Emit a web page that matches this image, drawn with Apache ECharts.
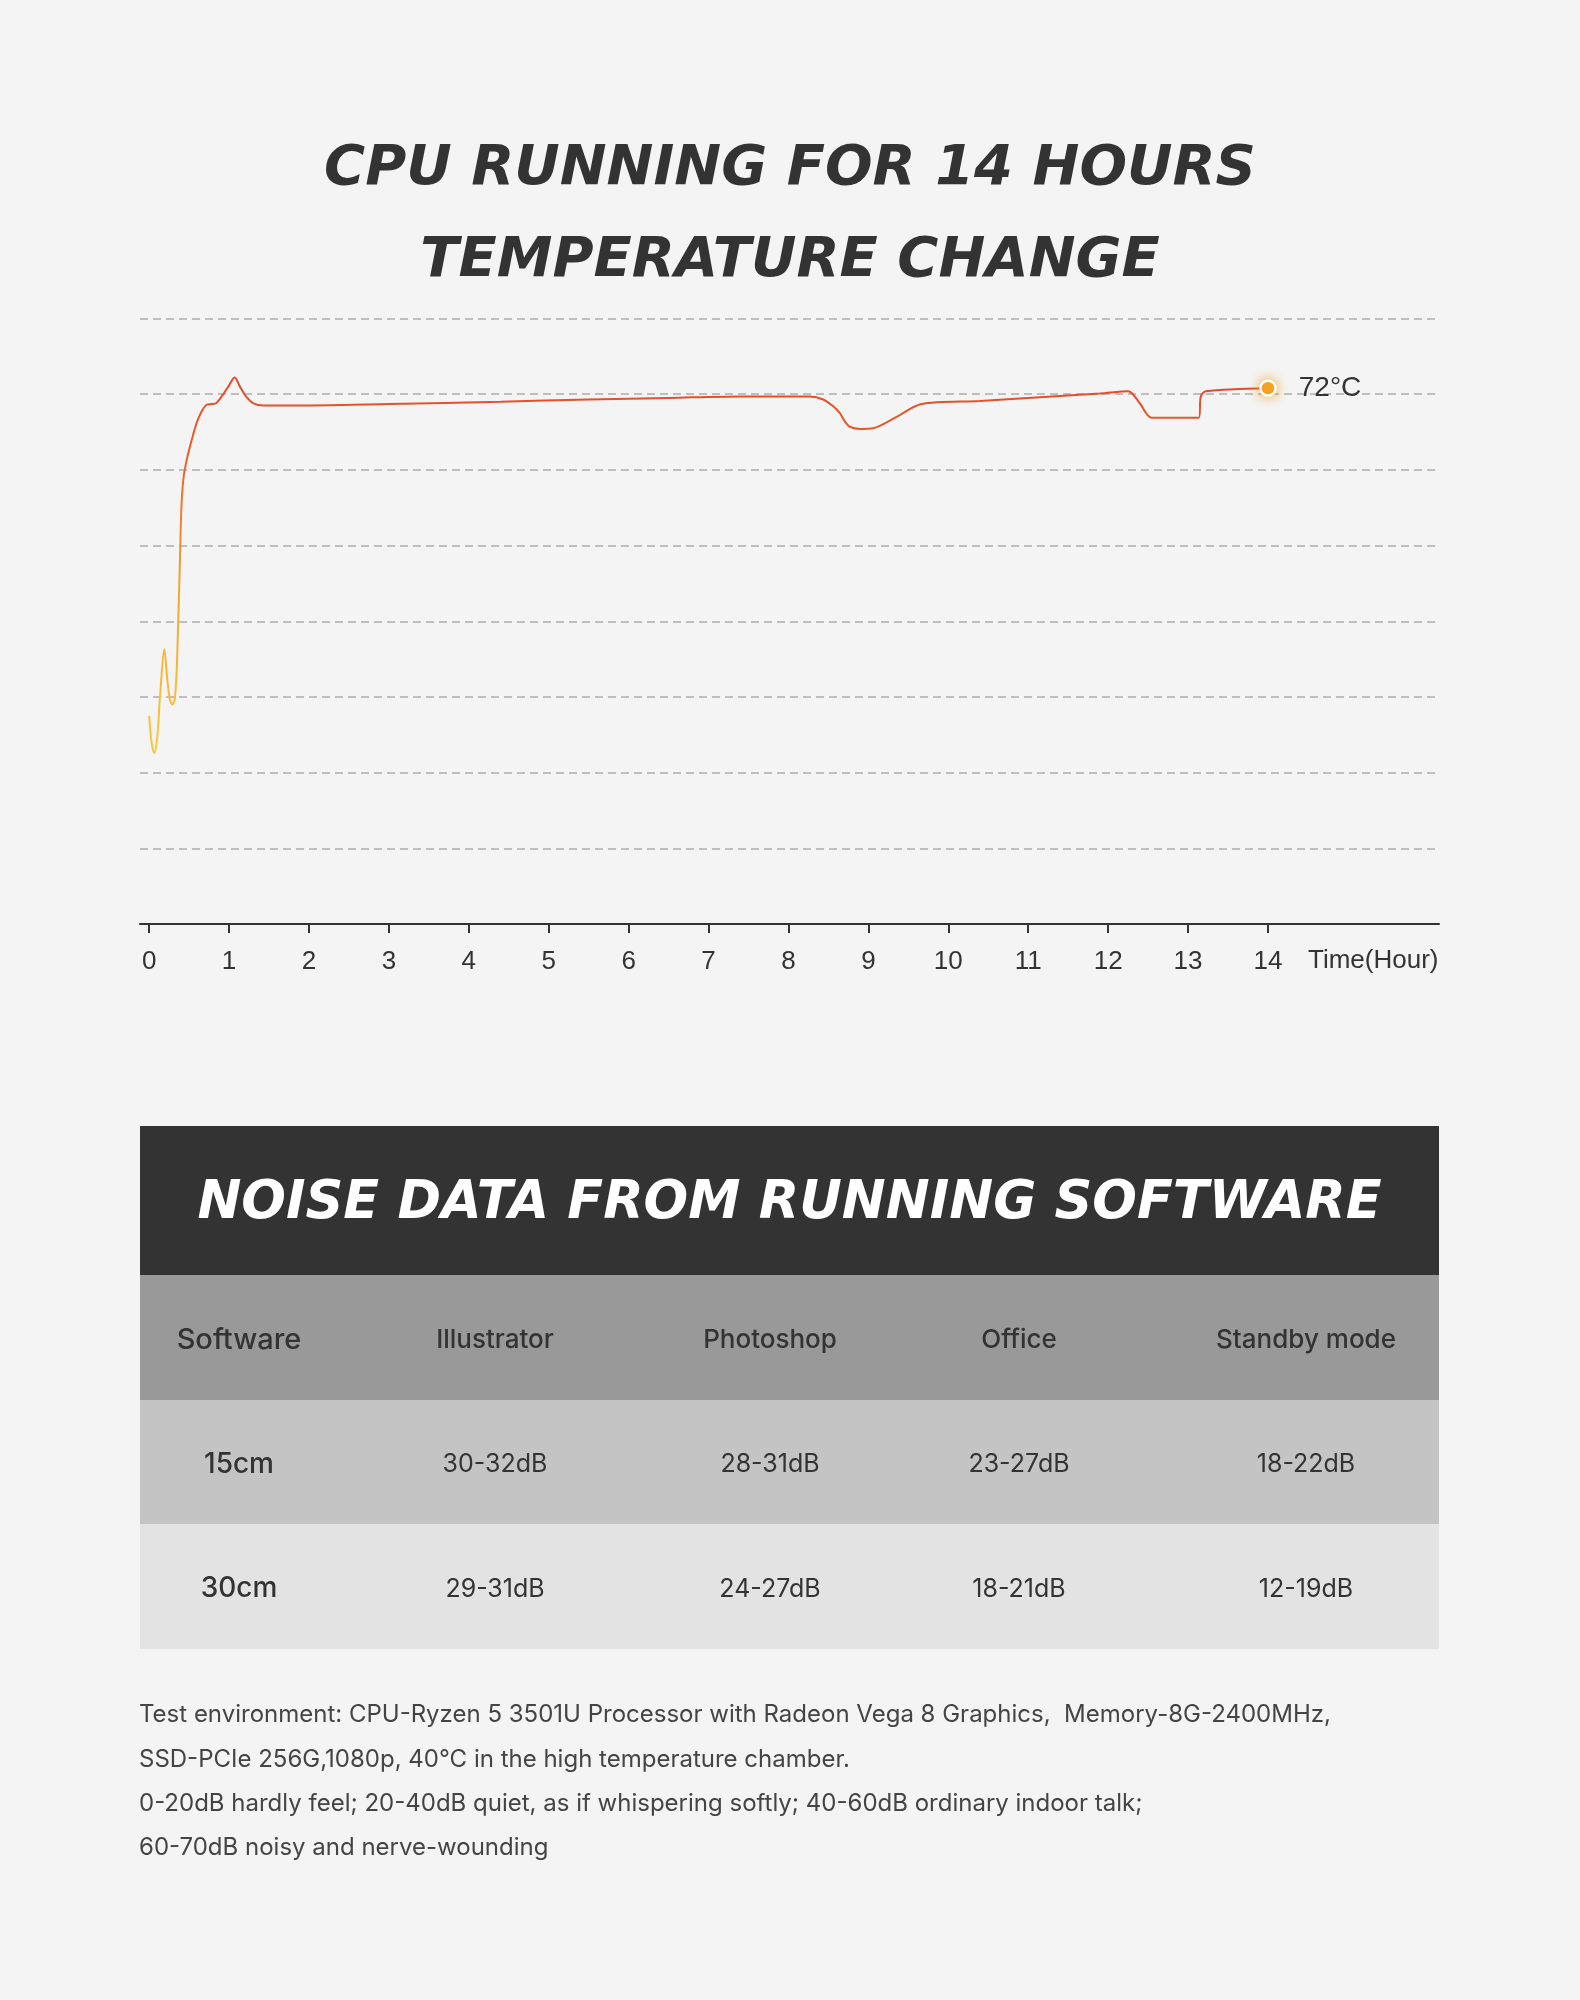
<!DOCTYPE html>
<html>
<head>
<meta charset="utf-8">
<script src="https://cdn.jsdelivr.net/npm/echarts@6/dist/echarts.min.js"></script>
<style>
html,body{margin:0;padding:0;background:#f4f4f4;}
#c{width:1580px;height:2000px;}
</style>
</head>
<body>
<div id="c"></div>
<script>
// ---------- DATA ----------
const chartTitle = 'CPU RUNNING FOR 14 HOURS\nTEMPERATURE CHANGE';
const xAxisName = 'Time(Hour)';
const xTicks = [0,1,2,3,4,5,6,7,8,9,10,11,12,13,14];
const endLabelText = '72°C';

const hours = [0, 0.031, 0.064, 0.102, 0.135, 0.189, 0.227, 0.260, 0.289, 0.319, 0.344, 0.364, 0.385, 0.402, 0.427, 0.469, 0.531, 0.594, 0.656, 0.719, 0.782, 0.836, 0.907, 0.990, 1.069, 1.136, 1.219, 1.303, 1.428, 1.762, 3.0, 4.4, 5.5, 6.5, 7.4, 7.892, 8.268, 8.434, 8.559, 8.643, 8.705, 8.768, 8.893, 9.059, 9.352, 9.665, 10.394, 11.897, 12.25, 12.396, 12.542, 13.134, 13.159, 13.222, 14.0];
const temps = [27.5, 23.9, 22.6, 24.8, 30.0, 36.3, 32.2, 29.6, 29.0, 29.6, 33.6, 40.2, 48.1, 54.7, 58.7, 61.3, 63.9, 66.2, 67.7, 68.6, 68.7, 68.8, 69.7, 71.0, 72.2, 71.0, 69.6, 68.8, 68.5, 68.5, 68.7, 69.0, 69.3, 69.5, 69.7, 69.7, 69.7, 69.3, 68.4, 67.5, 66.4, 65.7, 65.4, 65.5, 67.0, 68.7, 69.1, 70.1, 70.4, 68.8, 66.9, 66.9, 69.7, 70.4, 70.8];

const tableTitle = 'NOISE DATA FROM RUNNING SOFTWARE';
const tableHeader = ['Software', 'Illustrator', 'Photoshop', 'Office', 'Standby mode'];
const row15cm = ['15cm', '30-32dB', '28-31dB', '23-27dB', '18-22dB'];
const row30cm = ['30cm', '29-31dB', '24-27dB', '18-21dB', '12-19dB'];
const notes = [
  'Test environment: CPU-Ryzen 5 3501U Processor with Radeon Vega 8 Graphics,  Memory-8G-2400MHz,',
  'SSD-PCIe 256G,1080p, 40°C in the high temperature chamber.',
  '0-20dB hardly feel; 20-40dB quiet, as if whispering softly; 40-60dB ordinary indoor talk;',
  '60-70dB noisy and nerve-wounding'
];

// ---------- LAYOUT ----------
const L = {
  left: 140, right: 1439,
  colCenters: [239, 495, 770, 1019, 1306],
  bandTop: 1126, bandH: 149,
  headTop: 1275, headH: 125,
  row1Top: 1400, row1H: 124,
  row2Top: 1524, row2H: 125,
  textShift: 2.5,
  noteX: 139, noteY0: 1715, noteStep: 44.4
};
const W = L.right - L.left;

const graphics = [];
graphics.push({type:'rect', shape:{x:L.left, y:L.bandTop, width:W, height:L.bandH}, style:{fill:'#333333'}, silent:true});
graphics.push({type:'text', style:{text:tableTitle, x:(L.left+L.right)/2, y:L.bandTop+L.bandH/2+4, fill:'#ffffff', align:'center', verticalAlign:'middle', textAlign:'center', textVerticalAlign:'middle', font:'italic bold 52.5px "DejaVu Sans"'}, silent:true});
const rows = [
  {cells: tableHeader, top:L.headTop, h:L.headH, fill:'#999999', first:'500 29px "Inter"', rest:'500 26px "Inter"'},
  {cells: row15cm, top:L.row1Top, h:L.row1H, fill:'#c4c4c4', first:'500 28px "Inter"', rest:'400 25px "Inter"'},
  {cells: row30cm, top:L.row2Top, h:L.row2H, fill:'#e3e3e3', first:'500 28px "Inter"', rest:'400 25px "Inter"'}
];
rows.forEach(r => {
  graphics.push({type:'rect', shape:{x:L.left, y:r.top, width:W, height:r.h}, style:{fill:r.fill}, silent:true});
  r.cells.forEach((t, i) => {
    graphics.push({type:'text', style:{text:t, x:L.colCenters[i], y:r.top + r.h/2 + L.textShift, fill:'#333333', align:'center', verticalAlign:'middle', textAlign:'center', textVerticalAlign:'middle', font: i === 0 ? r.first : r.rest}, silent:true});
  });
});
notes.forEach((t, i) => {
  graphics.push({type:'text', style:{text:t, x:L.noteX, y:L.noteY0 + i*L.noteStep, fill:'#444444', align:'left', verticalAlign:'middle', textAlign:'left', textVerticalAlign:'middle', font:'400 24px "Inter"'}, silent:true});
});

const seriesData = hours.map((h, i) => {
  if (i === hours.length - 1) {
    return {
      value: [h, temps[i]],
      symbol: 'circle', symbolSize: 15,
      itemStyle: {color:'#f6a123', borderColor:'#ffffff', borderWidth:2.5, shadowBlur:12, shadowColor:'rgba(246,161,35,0.85)'},
      label: {show:true, position:'right', distance:22, formatter:endLabelText, fontSize:28, color:'#333333', fontFamily:'Liberation Sans'}
    };
  }
  return [h, temps[i]];
});

const chart = echarts.init(document.getElementById('c'), null, {renderer:'canvas'});
chart.setOption({
  animation: false,
  backgroundColor: '#f4f4f4',
  title: {
    text: chartTitle, left: 'center', top: 118,
    textStyle: {fontFamily:'DejaVu Sans', fontWeight:'bold', fontStyle:'italic', fontSize:56, lineHeight:92, color:'#333333'}
  },
  grid: {left: L.left, right: 1580 - L.right, top: 318.5, bottom: 2000 - 924},
  xAxis: {
    type: 'value', min: -0.115, max: 16.14,
    name: xAxisName, nameLocation: 'end', nameGap: -131,
    nameTextStyle: {fontSize:26, color:'#333333', fontFamily:'Liberation Sans', align:'left', verticalAlign:'top', padding:[24,0,0,0]},
    axisLine: {show:true, lineStyle:{color:'#333333', width:2}},
    axisTick: {show:true, length:9, lineStyle:{color:'#333333', width:2}, customValues: xTicks},
    axisLabel: {fontSize:26, color:'#333333', fontFamily:'Liberation Sans', margin:25, customValues: xTicks},
    splitLine: {show:false}
  },
  yAxis: {
    type: 'value', min: 0, max: 80, interval: 10,
    axisLine: {show:false}, axisTick: {show:false}, axisLabel: {show:false},
    splitLine: {show:true, lineStyle:{color:'#acacac', width:1.5, type:[8,5]}}
  },
  series: [{
    type: 'line',
    data: seriesData,
    smooth: 0.3,
    symbol: 'none',
    showSymbol: true,
    lineStyle: {
      width: 2,
      color: new echarts.graphic.LinearGradient(0, 0, 0, 1, [
        {offset:0, color:'#e2482a'},
        {offset:0.25, color:'#ea692b'},
        {offset:0.55, color:'#f5a22d'},
        {offset:1, color:'#fcca3a'}
      ])
    },
    z: 3
  }],
  graphic: graphics
});
</script>
</body>
</html>
